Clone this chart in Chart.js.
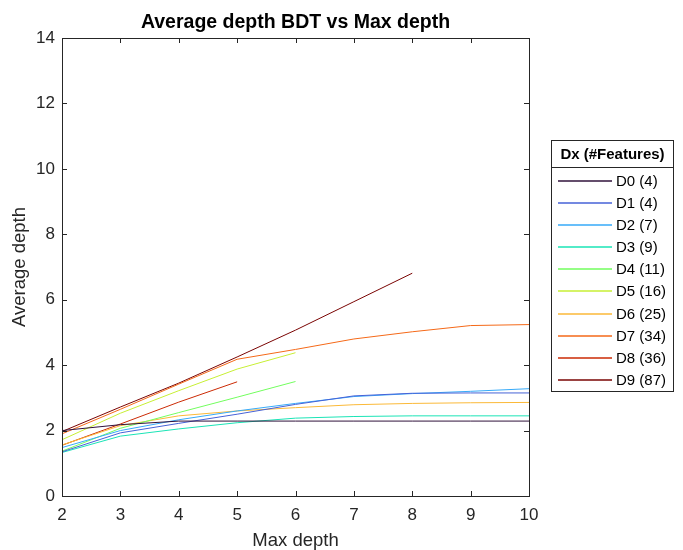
<!DOCTYPE html>
<html><head><meta charset="utf-8">
<script src="https://cdn.jsdelivr.net/npm/chart.js@4/dist/chart.umd.min.js"></script>
<style>html,body{margin:0;padding:0;background:#fff}</style>
</head><body>
<canvas id="c" width="683" height="550"></canvas>
<script>
// ---- data ----
const maxDepth = [2, 3, 4, 5, 6, 7, 8, 9, 10];
const D0 = [2.00, 2.18, 2.29, 2.29, 2.29, 2.29, 2.29, 2.29, 2.29];
const D1 = [1.35, 1.93, 2.22, 2.50, 2.80, 3.06, 3.14, 3.15, 3.15];
const D2 = [1.48, 2.00, 2.33, 2.60, 2.83, 3.04, 3.13, 3.20, 3.28];
const D3 = [1.33, 1.83, 2.05, 2.24, 2.38, 2.43, 2.45, 2.45, 2.45];
const D4 = [1.37, 2.07, 2.55, 3.02, 3.50];
const D5 = [1.72, 2.53, 3.22, 3.88, 4.38];
const D6 = [1.56, 2.15, 2.45, 2.60, 2.70, 2.79, 2.83, 2.85, 2.86];
const D7 = [1.90, 2.65, 3.42, 4.18, 4.48, 4.80, 5.02, 5.21, 5.24];
const D8 = [1.55, 2.20, 2.87, 3.49];
const D9 = [1.97, 2.72, 3.45, 4.25, 5.07, 5.94, 6.81];
const seriesLabels = ['D0 (4)', 'D1 (4)', 'D2 (7)', 'D3 (9)', 'D4 (11)', 'D5 (16)', 'D6 (25)', 'D7 (34)', 'D8 (36)', 'D9 (87)'];
const seriesValues = [D0, D1, D2, D3, D4, D5, D6, D7, D8, D9];
const yTicks = [0, 2, 4, 6, 8, 10, 12, 14];
const chartTitle = 'Average depth BDT vs Max depth';
const xTitle = 'Max depth';
const yTitle = 'Average depth';
const legendTitle = 'Dx (#Features)';

// ---- styles ----
const seriesColors = ['#30123b', '#4662d7', '#36aaf9', '#1ae4b6', '#72fe5e', '#c7ef34', '#fbb938', '#f56918', '#cb2a04', '#7a0403'];
const FONT = '"Liberation Sans", Arial, Helvetica, sans-serif';
const AX = '#262626';
Chart.defaults.font.family = FONT;

const datasets = seriesValues.map((vals, i) => ({
  label: seriesLabels[i],
  data: vals.map((v, j) => ({x: maxDepth[j], y: v})),
  borderColor: seriesColors[i],
  backgroundColor: seriesColors[i],
  borderWidth: 1,
  pointRadius: 0,
  fill: false,
  tension: 0
}));

const decor = {
  id: 'decor',
  afterDraw(chart) {
    const ctx = chart.ctx, ca = chart.chartArea;
    const xs = chart.scales.x, ys = chart.scales.y;
    ctx.save();
    ctx.strokeStyle = AX; ctx.lineWidth = 1;
    ctx.strokeRect(Math.round(ca.left) + 0.5, Math.round(ca.top) + 0.5, Math.round(ca.right - ca.left), Math.round(ca.bottom - ca.top));
    ctx.beginPath();
    const tl = 5;
    xs.ticks.forEach(t => {
      const p = Math.round(xs.getPixelForValue(t.value)) + 0.5;
      ctx.moveTo(p, ca.bottom); ctx.lineTo(p, ca.bottom - tl);
      ctx.moveTo(p, ca.top); ctx.lineTo(p, ca.top + tl);
    });
    ys.ticks.forEach(t => {
      const p = Math.round(ys.getPixelForValue(t.value)) + 0.5;
      ctx.moveTo(ca.left, p); ctx.lineTo(ca.left + tl, p);
      ctx.moveTo(ca.right, p); ctx.lineTo(ca.right - tl, p);
    });
    ctx.stroke();
    // title
    ctx.fillStyle = '#000';
    ctx.font = 'bold 19.5px ' + FONT;
    ctx.textAlign = 'center'; ctx.textBaseline = 'middle';
    ctx.fillText(chartTitle, (ca.left + ca.right) / 2, 23);
    // legend
    const lx = 551.5, ly = 140.5, lw = 122, lh = 251;
    ctx.fillStyle = '#fff';
    ctx.fillRect(lx, ly, lw, lh);
    ctx.strokeStyle = AX;
    ctx.strokeRect(lx, ly, lw, lh);
    ctx.beginPath(); ctx.moveTo(lx, 167.5); ctx.lineTo(lx + lw, 167.5); ctx.stroke();
    ctx.fillStyle = '#000';
    ctx.font = 'bold 15px ' + FONT;
    ctx.textAlign = 'center';
    ctx.fillText(legendTitle, lx + lw / 2, 154.5);
    ctx.font = '15px ' + FONT;
    ctx.textAlign = 'left';
    chart.data.datasets.forEach((ds, i) => {
      const y = Math.round(180.7 + i * 22.15);
      ctx.strokeStyle = ds.borderColor; ctx.lineWidth = 1.3;
      ctx.beginPath(); ctx.moveTo(558, y); ctx.lineTo(612, y); ctx.stroke();
      ctx.fillStyle = '#000';
      ctx.fillText(ds.label, 616, y + 1);
    });
    ctx.restore();
  }
};

new Chart(document.getElementById('c'), {
  type: 'line',
  data: {datasets},
  options: {
    responsive: false, animation: false, devicePixelRatio: 1,
    layout: {padding: {top: 38, right: 154, left: 0, bottom: 0}},
    plugins: {legend: {display: false}, title: {display: false}, tooltip: {enabled: false}},
    scales: {
      x: {
        type: 'linear', min: 2, max: 10,
        afterFit: s => { s.height = 54; },
        grid: {display: false, drawTicks: false},
        border: {display: false},
        ticks: {stepSize: 1, color: AX, font: {size: 17}, padding: 9, maxRotation: 0},
        title: {display: true, text: xTitle, color: AX, font: {size: 18.5, lineHeight: 1}, padding: {top: 0, bottom: 0}}
      },
      y: {
        type: 'linear', min: 0, max: 14,
        afterFit: s => { s.width = 62; },
        afterBuildTicks: s => { s.ticks = yTicks.map(v => ({value: v})); },
        grid: {display: false, drawTicks: false},
        border: {display: false},
        ticks: {color: AX, font: {size: 17}, padding: 7},
        title: {display: true, text: yTitle, color: AX, font: {size: 18.5, lineHeight: 1}, padding: {top: 11, bottom: 0}}
      }
    }
  },
  plugins: [decor]
});
</script>
</body></html>
